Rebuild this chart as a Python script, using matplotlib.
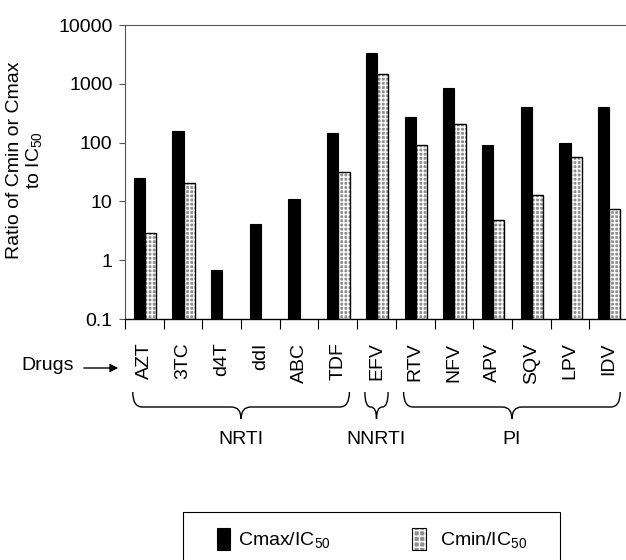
import numpy as np
import matplotlib
matplotlib.use("Agg")
import matplotlib.pyplot as plt
from matplotlib.path import Path
from matplotlib.patches import PathPatch, Rectangle
from matplotlib.transforms import blended_transform_factory

plt.rcParams["font.family"] = ["Liberation Sans", "DejaVu Sans"]
plt.rcParams["mathtext.fontset"] = "custom"
plt.rcParams["mathtext.rm"] = "Liberation Sans"
plt.rcParams["mathtext.it"] = "Liberation Sans:italic"

drugs = ["AZT", "3TC", "d4T", "ddI", "ABC", "TDF", "EFV",
         "RTV", "NFV", "APV", "SQV", "LPV", "IDV"]
cmax_ic50 = [25, 158, 0.59, 4.0, 11, 145, 3340, 275, 850, 91, 405, 100, 405]
cmin_ic50 = [2.75, 20.5, np.nan, np.nan, np.nan, 32, 1450, 91, 210, 4.7, 13, 56, 7.4]
groups = ["NRTI", "NNRTI", "PI"]
group_ranges = [(0, 5), (6, 6), (7, 12)]
yticks = [0.1, 1, 10, 100, 1000, 10000]
ytick_labels = ["0.1", "1", "10", "100", "1000", "10000"]

W, H = 626, 560
FS = 14
fig = plt.figure(figsize=(W / 100, H / 100), dpi=100)
ax = fig.add_axes([125 / W, 1 - 319 / H, 503 / W, 294 / H])

x = np.arange(len(drugs))
bw = 0.29
dots = "#8f8f8f"
ax.bar(x + 0.37, cmax_ic50, width=bw, bottom=0.1, color="black", edgecolor="black", lw=0.8)
ax.bar(x + 0.66, cmin_ic50, width=bw, bottom=0.1, color=dots, edgecolor="white",
       hatch="++++", lw=0)
ax.bar(x + 0.66, cmin_ic50, width=bw, bottom=0.1, fill=False, edgecolor="black", lw=1.0)

ax.set_yscale("log")
ax.set_ylim(0.1, 10000)
ax.set_xlim(0, len(drugs))
ax.set_yticks(yticks)
ax.set_yticklabels(ytick_labels, fontsize=FS)
ax.yaxis.set_minor_locator(matplotlib.ticker.NullLocator())
ax.tick_params(axis="y", length=4, width=0.8, color="#555555", pad=5)

ax.set_xticks(np.arange(len(drugs) + 1))
ax.set_xticklabels([])
ax.tick_params(axis="x", which="major", length=7, width=0.8, direction="out")
ax.set_xticks(x + 0.5, drugs, minor=True)
ax.tick_params(axis="x", which="minor", length=0, pad=17, labelsize=FS, labelrotation=90)

for side in ["top", "left"]:
    ax.spines[side].set_linestyle((0, (2, 1)))
    ax.spines[side].set_color("#555555")
    ax.spines[side].set_linewidth(0.8)
ax.spines["right"].set_visible(False)
ax.spines["bottom"].set_linewidth(1.0)

# overlay in pixel coordinates for annotations
ov = fig.add_axes([0, 0, 1, 1], zorder=-1)
ov.set_xlim(0, W)
ov.set_ylim(H, 0)
ov.axis("off")

ov.text(25, 160, "Ratio of Cmin or Cmax\nto IC$_{50}$", rotation=90, ha="center",
        va="center", fontsize=FS, multialignment="center", linespacing=1.05)

ov.annotate("", xy=(121, 368), xytext=(81, 368),
            arrowprops=dict(arrowstyle="-|>", color="black", lw=1, mutation_scale=12))
ov.text(21, 366, "Drugs", ha="left", va="center", fontsize=FS)

# braces under the drug groups
bt = blended_transform_factory(ax.transData, ov.transData)
top, mid, tip = 392, 407, 419
for name, (s, e) in zip(groups, group_ranges):
    x0, x1 = s + 0.2, e + 0.8
    xc = (x0 + x1) / 2
    r = min(0.25, (x1 - x0) / 4)
    verts = [(x0, top), (x0, mid), (x0 + r, mid),
             (xc - r, mid), (xc, mid), (xc, tip),
             (xc, tip), (xc, mid), (xc + r, mid),
             (x1 - r, mid), (x1, mid), (x1, top)]
    codes = [Path.MOVETO, Path.CURVE3, Path.CURVE3,
             Path.LINETO, Path.CURVE3, Path.CURVE3,
             Path.MOVETO, Path.CURVE3, Path.CURVE3,
             Path.LINETO, Path.CURVE3, Path.CURVE3]
    ov.add_patch(PathPatch(Path(verts, codes), transform=bt, fill=False, lw=1.0,
                           edgecolor="black", clip_on=False))
    ov.text(xc, 439, name, transform=bt, ha="center", va="center", fontsize=FS)

# legend box
ov.add_patch(Rectangle((183, 512), 377, 60, fill=False, edgecolor="black", lw=0.8,
                       clip_on=False))
ov.add_patch(Rectangle((217, 528), 13, 22, facecolor="black", edgecolor="black", lw=0.8))
ov.text(238, 540, "Cmax/IC$_{50}$", ha="left", va="center", fontsize=FS)
ov.add_patch(Rectangle((412, 528), 14, 22, facecolor=dots, edgecolor="white",
                       hatch="+++", lw=0))
ov.add_patch(Rectangle((412, 528), 14, 22, fill=False, edgecolor="black", lw=0.8))
ov.text(440, 540, "Cmin/IC$_{50}$", ha="left", va="center", fontsize=FS)

fig.savefig("out.png", dpi=100)
